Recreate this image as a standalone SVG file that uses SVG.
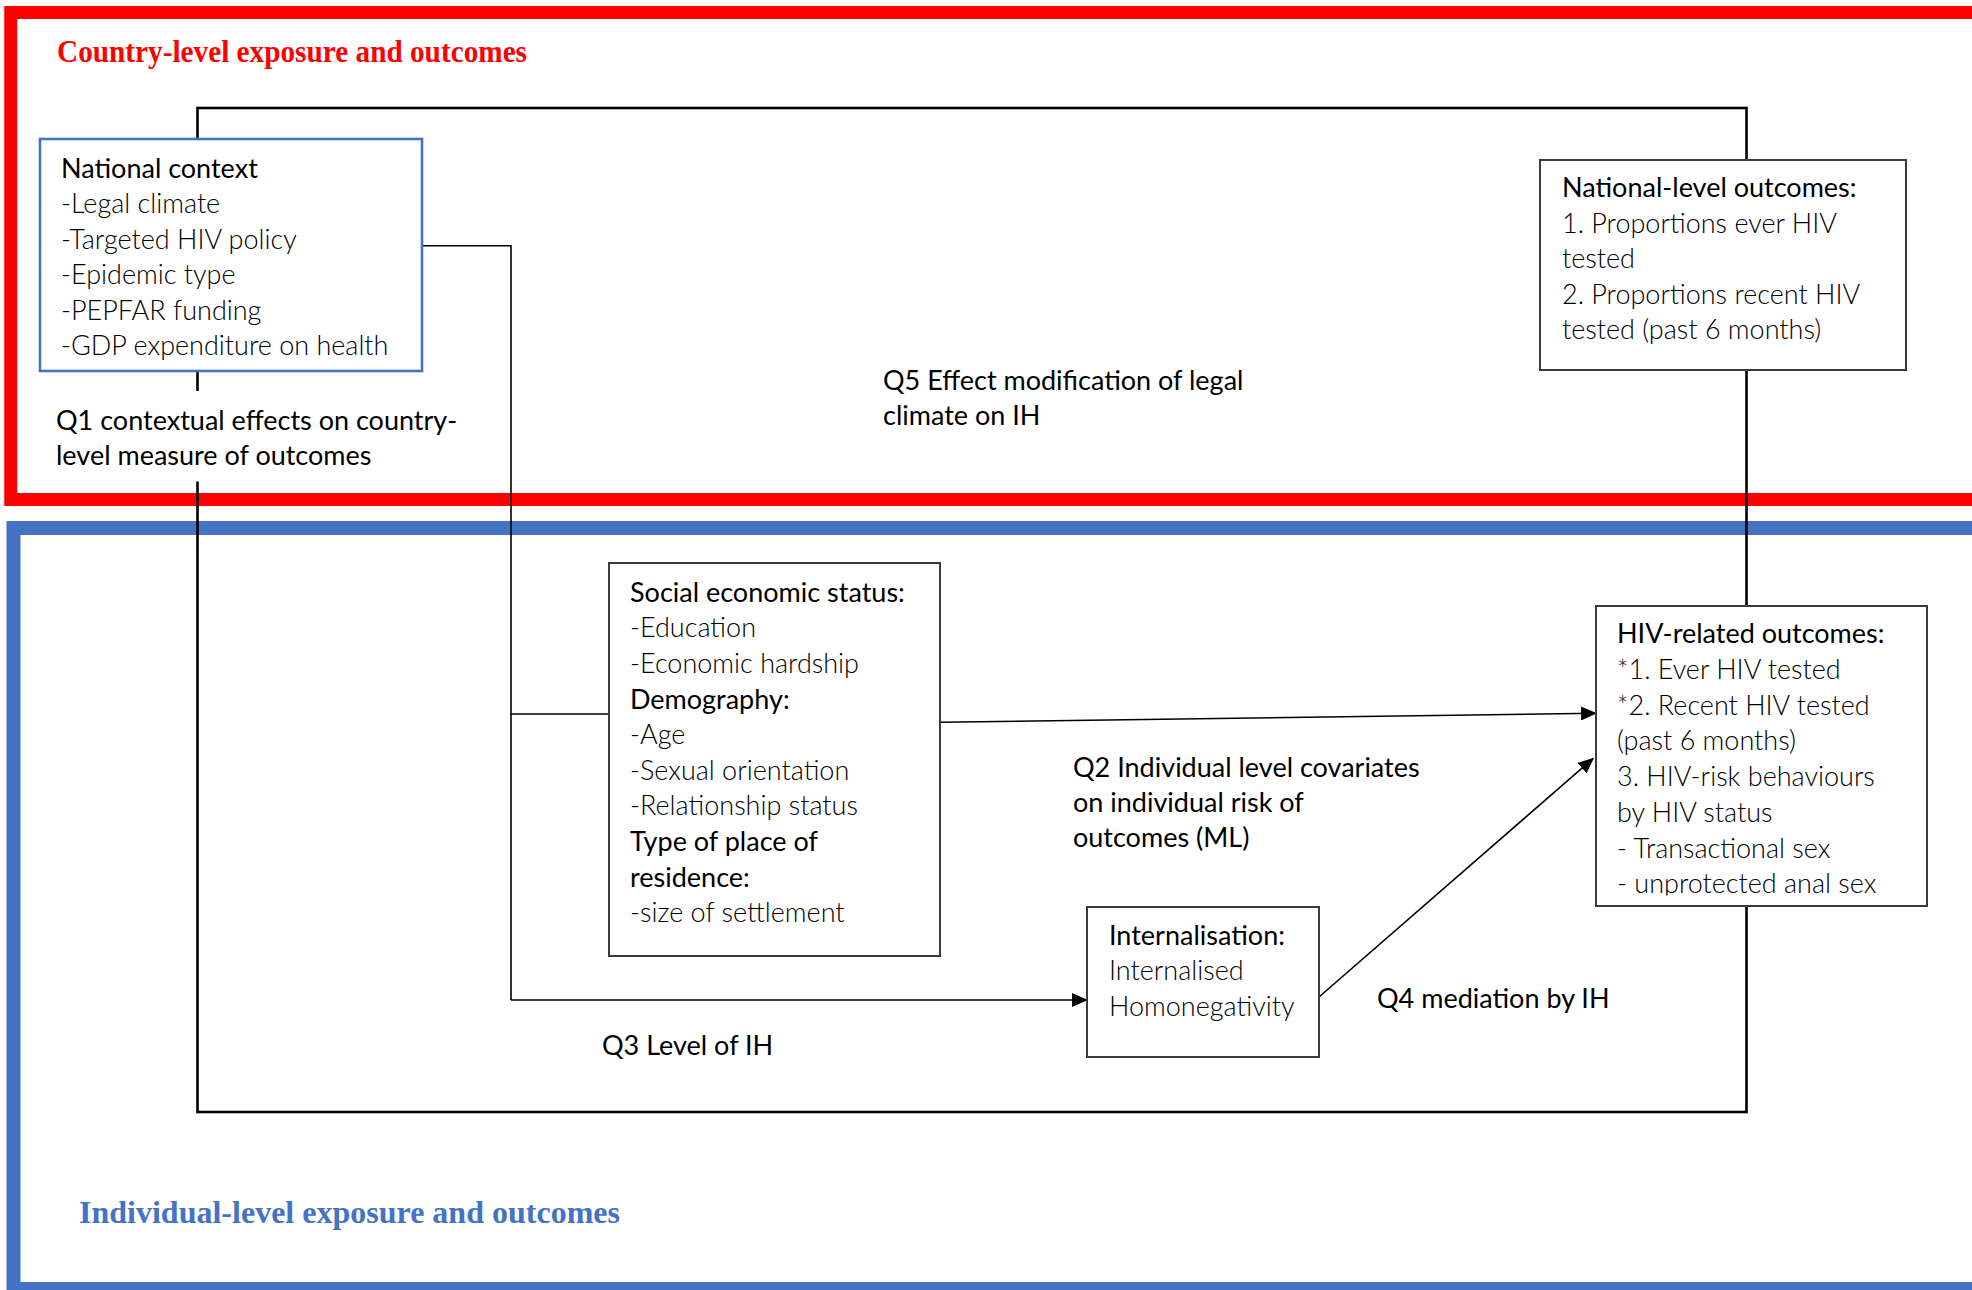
<svg xmlns="http://www.w3.org/2000/svg" width="1972" height="1290" viewBox="0 0 1972 1290">
<style>
.t{font-family:Lato,"Open Sans","Liberation Sans",sans-serif;font-size:27px;fill:#000}
.h{font-weight:400}
.i{font-weight:300}
.q{font-weight:400}
.ttl{font-family:"Liberation Serif","Times New Roman",serif;font-weight:bold;font-size:31px}
.box{fill:#fff;stroke:#3a3a3a;stroke-width:2}
.con{fill:none;stroke:#000;stroke-width:1.6}
</style>
<defs>
<marker id="ah" markerUnits="userSpaceOnUse" markerWidth="16" markerHeight="14" refX="15" refY="7" orient="auto">
<path d="M0,0 L16,7 L0,14 Z" fill="#000"/>
</marker>
<clipPath id="hivclip"><rect x="1596" y="606" width="331" height="289.5"/></clipPath>
</defs>
<rect width="1972" height="1290" fill="#fff"/>

<g id="frames">
<rect x="10.75" y="12.5" width="2000" height="487" fill="none" stroke="#ff0000" stroke-width="13"/>
<rect x="13.5" y="528" width="2000" height="761" fill="none" stroke="#4472c4" stroke-width="14"/>
<text class="ttl" x="57" y="62" fill="#ff0000" textLength="470" lengthAdjust="spacingAndGlyphs">Country-level exposure and outcomes</text>
<text class="ttl" x="79" y="1222.5" fill="#4472c4" textLength="541" lengthAdjust="spacingAndGlyphs">Individual-level exposure and outcomes</text>
</g>

<g id="connectors">
<rect x="197.5" y="108" width="1549" height="1004" fill="none" stroke="#000" stroke-width="2.6"/>
<path class="con" d="M422,245.7 H511 V1000"/>
<path class="con" d="M511,714 H609"/>
<path class="con" d="M511,1000 H1087" marker-end="url(#ah)"/>
<path class="con" d="M940,722.3 L1596,713.3" marker-end="url(#ah)"/>
<path class="con" d="M1319,997 L1593.3,758.3" marker-end="url(#ah)"/>
</g>

<g id="q1-label">
<rect x="50" y="391" width="410" height="90.5" fill="#fff"/>
<text class="t q" x="56" y="429.5">Q1 contextual effects on country-</text>
<text class="t q" x="56" y="465">level measure of outcomes</text>
</g>

<g id="q5-label">
<text class="t q" x="883" y="390">Q5 Effect modification of legal</text>
<text class="t q" x="883" y="425">climate on IH</text>
</g>

<g id="q2-label">
<text class="t q" x="1073" y="776.7">Q2 Individual level covariates</text>
<text class="t q" x="1073" y="812">on individual risk of</text>
<text class="t q" x="1073" y="847">outcomes (ML)</text>
</g>

<g id="q3-label">
<text class="t q" x="602" y="1055">Q3 Level of IH</text>
</g>

<g id="q4-label">
<text class="t q" x="1377" y="1008">Q4 mediation by IH</text>
</g>

<g id="national-context">
<rect x="40" y="139" width="382" height="232" fill="#fff" stroke="#4472c4" stroke-width="2.6"/>
<text class="t h" x="61" y="177.5">National context</text>
<text class="t i" x="61" y="213">-Legal climate</text>
<text class="t i" x="61" y="248.6">-Targeted HIV policy</text>
<text class="t i" x="61" y="284.2">-Epidemic type</text>
<text class="t i" x="61" y="319.8">-PEPFAR funding</text>
<text class="t i" x="61" y="355.4">-GDP expenditure on health</text>
</g>

<g id="national-outcomes">
<rect class="box" x="1540" y="160" width="366" height="210"/>
<text class="t h" x="1562" y="197">National-level outcomes:</text>
<text class="t i" x="1562" y="232.6">1. Proportions ever HIV</text>
<text class="t i" x="1562" y="268.2">tested</text>
<text class="t i" x="1562" y="303.8">2. Proportions recent HIV</text>
<text class="t i" x="1562" y="339.4">tested (past 6 months)</text>
</g>

<g id="individual-covariates">
<rect class="box" x="609" y="563" width="331" height="393"/>
<text class="t h" x="630" y="601.7">Social economic status:</text>
<text class="t i" x="630" y="637.3">-Education</text>
<text class="t i" x="630" y="672.9">-Economic hardship</text>
<text class="t h" x="630" y="708.5">Demography:</text>
<text class="t i" x="630" y="744.1">-Age</text>
<text class="t i" x="630" y="779.7">-Sexual orientation</text>
<text class="t i" x="630" y="815.3">-Relationship status</text>
<text class="t h" x="630" y="850.9">Type of place of</text>
<text class="t h" x="630" y="886.5">residence:</text>
<text class="t i" x="630" y="922.1">-size of settlement</text>
</g>

<g id="internalisation">
<rect class="box" x="1087" y="907" width="232" height="150"/>
<text class="t h" x="1109" y="944.5">Internalisation:</text>
<text class="t i" x="1109" y="980">Internalised</text>
<text class="t i" x="1109" y="1015.5">Homonegativity</text>
</g>

<g id="hiv-outcomes">
<rect class="box" x="1596" y="606" width="331" height="300"/>
<text class="t h" x="1617" y="643.3">HIV-related outcomes:</text>
<text class="t i" x="1617" y="679">*1. Ever HIV tested</text>
<text class="t i" x="1617" y="714.7">*2. Recent HIV tested</text>
<text class="t i" x="1617" y="750.4">(past 6 months)</text>
<text class="t i" x="1617" y="786.1">3. HIV-risk behaviours</text>
<text class="t i" x="1617" y="821.8">by HIV status</text>
<text class="t i" x="1617" y="857.5">- Transactional sex</text>
<text class="t i" x="1617" y="893.2" clip-path="url(#hivclip)">- unprotected anal sex</text>
</g>
</svg>
